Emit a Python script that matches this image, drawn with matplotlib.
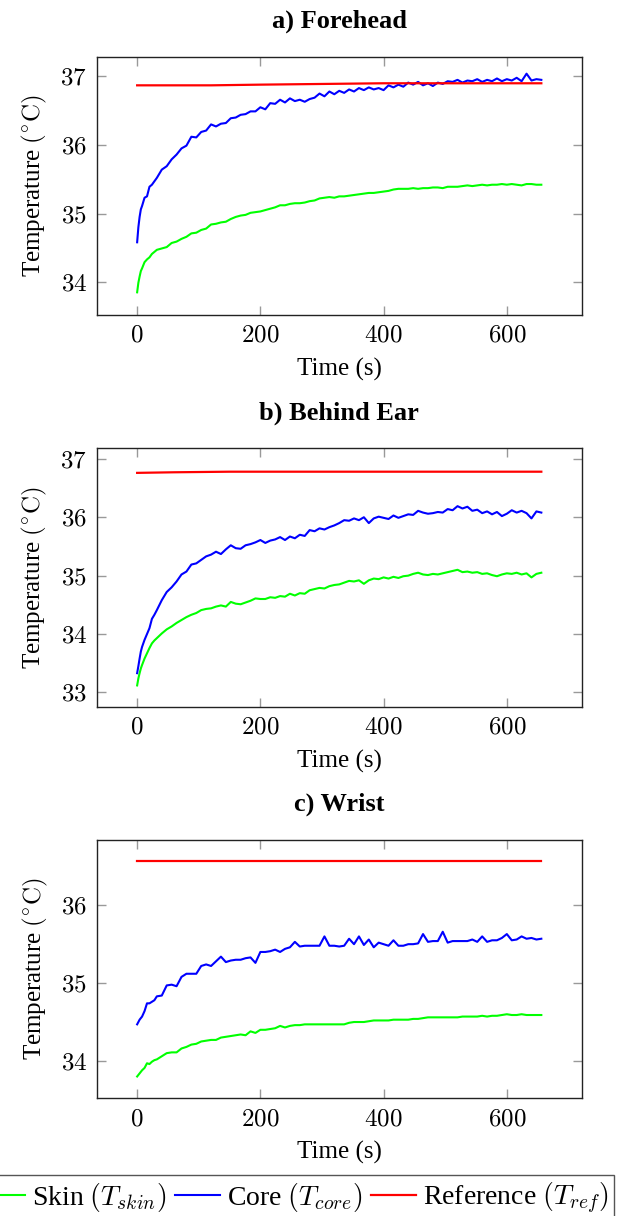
import matplotlib
matplotlib.use("Agg")
import matplotlib.pyplot as plt
from matplotlib.ticker import FuncFormatter

plt.rcParams['font.family'] = ['Liberation Serif', 'DejaVu Serif']
plt.rcParams['mathtext.fontset'] = 'cm'

# sampling times (s), shared by the skin/core series
time_s = [0, 2, 4, 6, 8, 12, 16, 20, 24, 28] + list(range(32, 657, 8))

# a) Forehead
a_core = [
    34.58, 34.80, 34.95, 35.06, 35.11, 35.23, 35.25, 35.39, 35.42, 35.47,
    35.52, 35.64, 35.69, 35.79, 35.86, 35.95, 35.99, 36.12, 36.11, 36.19,
    36.21, 36.30, 36.27, 36.31, 36.32, 36.39, 36.40, 36.44, 36.45, 36.49,
    36.49, 36.55, 36.52, 36.61, 36.60, 36.66, 36.62, 36.68, 36.64, 36.66,
    36.63, 36.67, 36.69, 36.75, 36.71, 36.78, 36.74, 36.79, 36.76, 36.81,
    36.78, 36.83, 36.80, 36.84, 36.81, 36.83, 36.80, 36.87, 36.84, 36.88,
    36.85, 36.91, 36.88, 36.92, 36.87, 36.90, 36.86, 36.91, 36.89, 36.93,
    36.92, 36.95, 36.91, 36.94, 36.93, 36.96, 36.92, 36.95, 36.93, 36.97,
    36.93, 36.96, 36.94, 36.98, 36.93, 37.04, 36.94, 36.96, 36.95,
]
a_skin = [
    33.85, 33.99, 34.08, 34.16, 34.20, 34.29, 34.33, 34.36, 34.41, 34.44,
    34.47, 34.49, 34.51, 34.57, 34.59, 34.63, 34.66, 34.71, 34.72, 34.76,
    34.78, 34.84, 34.85, 34.87, 34.88, 34.92, 34.95, 34.97, 34.98, 35.01,
    35.02, 35.03, 35.05, 35.07, 35.09, 35.12, 35.12, 35.14, 35.15, 35.15,
    35.16, 35.18, 35.19, 35.22, 35.23, 35.24, 35.23, 35.25, 35.25, 35.26,
    35.27, 35.28, 35.29, 35.30, 35.30, 35.31, 35.32, 35.33, 35.35, 35.36,
    35.36, 35.36, 35.37, 35.36, 35.37, 35.37, 35.38, 35.38, 35.37, 35.39,
    35.39, 35.39, 35.40, 35.41, 35.40, 35.41, 35.42, 35.41, 35.42, 35.42,
    35.43, 35.42, 35.43, 35.42, 35.41, 35.43, 35.43, 35.42, 35.42,
]
a_ref_t = [0, 120, 200, 300, 400, 500, 656]
a_ref = [36.87, 36.87, 36.88, 36.89, 36.90, 36.90, 36.90]

# b) Behind Ear
b_core = [
    33.33, 33.45, 33.58, 33.70, 33.78, 33.90, 34.00, 34.10, 34.26, 34.33,
    34.41, 34.58, 34.72, 34.80, 34.90, 35.02, 35.07, 35.19, 35.21, 35.27,
    35.33, 35.36, 35.41, 35.37, 35.45, 35.52, 35.47, 35.46, 35.52, 35.54,
    35.57, 35.61, 35.56, 35.60, 35.62, 35.66, 35.61, 35.67, 35.64, 35.70,
    35.68, 35.78, 35.76, 35.81, 35.79, 35.83, 35.86, 35.90, 35.95, 35.94,
    35.98, 35.95, 36.00, 35.90, 35.98, 36.01, 35.99, 35.97, 36.03, 35.99,
    36.02, 36.05, 36.04, 36.11, 36.08, 36.06, 36.07, 36.09, 36.08, 36.14,
    36.12, 36.19, 36.15, 36.18, 36.11, 36.13, 36.07, 36.10, 36.05, 36.09,
    36.02, 36.06, 36.12, 36.08, 36.11, 36.07, 35.98, 36.10, 36.08,
]
b_skin = [
    33.12, 33.24, 33.33, 33.41, 33.47, 33.58, 33.67, 33.76, 33.84, 33.89,
    33.93, 34.01, 34.08, 34.13, 34.19, 34.24, 34.29, 34.33, 34.36, 34.41,
    34.43, 34.44, 34.47, 34.49, 34.47, 34.55, 34.52, 34.51, 34.54, 34.57,
    34.61, 34.60, 34.60, 34.63, 34.62, 34.65, 34.64, 34.69, 34.66, 34.70,
    34.69, 34.75, 34.77, 34.79, 34.78, 34.82, 34.84, 34.85, 34.88, 34.91,
    34.90, 34.92, 34.86, 34.92, 34.95, 34.94, 34.97, 34.95, 34.98, 34.96,
    34.99, 35.00, 35.03, 35.05, 35.02, 35.01, 35.03, 35.02, 35.04, 35.06,
    35.08, 35.10, 35.06, 35.07, 35.05, 35.06, 35.03, 35.04, 35.01, 34.99,
    35.02, 35.04, 35.03, 35.05, 35.02, 35.04, 34.97, 35.03, 35.05,
]
b_ref_t = [0, 60, 150, 656]
b_ref = [36.76, 36.77, 36.78, 36.78]

# c) Wrist
c_core = [
    34.47, 34.50, 34.53, 34.55, 34.57, 34.64, 34.74, 34.74, 34.76, 34.78,
    34.83, 34.84, 34.97, 34.98, 34.96, 35.08, 35.12, 35.12, 35.12, 35.22,
    35.24, 35.22, 35.28, 35.34, 35.27, 35.29, 35.30, 35.30, 35.32, 35.33,
    35.26, 35.40, 35.40, 35.41, 35.43, 35.40, 35.44, 35.46, 35.53, 35.47,
    35.48, 35.48, 35.48, 35.48, 35.60, 35.48, 35.48, 35.47, 35.48, 35.57,
    35.50, 35.60, 35.49, 35.56, 35.46, 35.52, 35.50, 35.48, 35.55, 35.48,
    35.48, 35.50, 35.50, 35.51, 35.63, 35.53, 35.54, 35.54, 35.66, 35.52,
    35.54, 35.54, 35.54, 35.54, 35.56, 35.53, 35.60, 35.53, 35.55, 35.55,
    35.58, 35.63, 35.55, 35.56, 35.60, 35.57, 35.58, 35.56, 35.57,
]
c_skin = [
    33.80, 33.82, 33.84, 33.86, 33.88, 33.91, 33.97, 33.96, 33.99, 34.01,
    34.02, 34.06, 34.10, 34.11, 34.11, 34.16, 34.18, 34.21, 34.22, 34.25,
    34.26, 34.27, 34.27, 34.30, 34.31, 34.32, 34.33, 34.34, 34.33, 34.38,
    34.36, 34.40, 34.40, 34.41, 34.42, 34.45, 34.43, 34.45, 34.46, 34.46,
    34.47, 34.47, 34.47, 34.47, 34.47, 34.47, 34.47, 34.47, 34.47, 34.49,
    34.50, 34.50, 34.50, 34.51, 34.52, 34.52, 34.52, 34.52, 34.53, 34.53,
    34.53, 34.53, 34.54, 34.54, 34.55, 34.56, 34.56, 34.56, 34.56, 34.56,
    34.56, 34.56, 34.57, 34.57, 34.57, 34.57, 34.58, 34.57, 34.58, 34.58,
    34.59, 34.60, 34.59, 34.59, 34.60, 34.59, 34.59, 34.59, 34.59,
]
c_ref_t = [0, 656]
c_ref = [36.57, 36.57]

panels = [
    ("a) Forehead", a_skin, a_core, a_ref_t, a_ref, (33.52, 37.29), [34, 35, 36, 37]),
    ("b) Behind Ear", b_skin, b_core, b_ref_t, b_ref, (32.755, 37.18), [33, 34, 35, 36, 37]),
    ("c) Wrist", c_skin, c_core, c_ref_t, c_ref, (33.52, 36.84), [34, 35, 36]),
]
# axes bottoms in figure fraction
bottoms = [0.7410, 0.4188, 0.0968]

fig = plt.figure(figsize=(6.2, 12.16), dpi=100)
fs = 18
math_fmt = FuncFormatter(lambda v, p: f"${v:g}$")

for (title, skin, core, ref_t, ref, ylim, yticks), b in zip(panels, bottoms):
    ax = fig.add_axes([0.156, b, 0.7823, 0.2125])
    ax.plot(time_s, skin, color="#00ff00", lw=1.5, label=r"Skin $(T_{skin})$")
    ax.plot(time_s, core, color="#0000ff", lw=1.5, label=r"Core $(T_{core})$")
    ax.plot(ref_t, ref, color="#ff0000", lw=1.6, label=r"Reference $(T_{ref})$")
    ax.set_xlim(-65.6, 721.6)
    ax.set_ylim(*ylim)
    ax.set_xticks([0, 200, 400, 600])
    ax.set_yticks(yticks)
    ax.xaxis.set_major_formatter(math_fmt)
    ax.yaxis.set_major_formatter(math_fmt)
    ax.tick_params(direction="in", top=True, right=True, length=6.5, width=1,
                   color="0.6", labelsize=fs, pad=7)
    for sp in ax.spines.values():
        sp.set_color("#222222")
        sp.set_linewidth(1.0)
    ax.set_title(title, fontsize=19, fontweight="bold", pad=21)
    ax.set_xlabel("Time (s)", fontsize=fs, labelpad=8)
    ax.set_ylabel(r"Temperature $(^{\circ}\mathrm{C})$", fontsize=fs, labelpad=8)

handles, labels = ax.get_legend_handles_labels()
leg = fig.legend(handles, labels, loc="upper right", ncol=3,
                 bbox_to_anchor=(614 / 620, 1 - 1175 / 1216), borderaxespad=0,
                 fontsize=20, frameon=True, fancybox=False, framealpha=1,
                 edgecolor="#555555", handlelength=1.6, handletextpad=0.25,
                 columnspacing=0.33, borderpad=0.2)
leg.get_frame().set_linewidth(1.0)

fig.savefig("out.png", dpi=100)
